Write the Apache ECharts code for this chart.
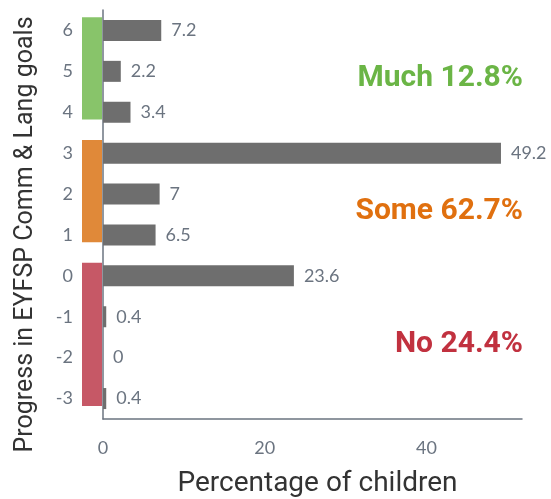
<!DOCTYPE html>
<html>
<head>
<meta charset="utf-8">
<script src="https://cdn.jsdelivr.net/npm/echarts@6/dist/echarts.min.js"></script>
<style>
  html, body { margin: 0; padding: 0; background: #ffffff; }
  #chart { width: 551px; height: 499px; }
</style>
</head>
<body>
<div id="chart"></div>
<script>
// Progress levels (bottom to top) and share of children at each level
const progressLevels = ['-3', '-2', '-1', '0', '1', '2', '3', '4', '5', '6'];
const percentChildren = [0.4, 0, 0.4, 23.6, 6.5, 7, 49.2, 3.4, 2.2, 7.2];

// Progress groups: name, first and last level in each group
const groupNames = ['No', 'Some', 'Much'];
const groupFirst = ['-3', '1', '4'];
const groupLast = ['0', '3', '6'];
const groupBandColors = ['#c65866', '#e08939', '#88c46a'];
const groupTextColors = ['#c1313f', '#e0700f', '#6bb546'];

const xTickStep = 20;
const xMax = 51.8;

// group totals, summed from the level values
const groupTotals = groupNames.map((_, g) => {
  const a = progressLevels.indexOf(groupFirst[g]);
  const b = progressLevels.indexOf(groupLast[g]);
  let s = 0;
  for (let i = a; i <= b; i++) s += percentChildren[i];
  return Math.round(s * 10) / 10;
});

// caption offset below the group's middle, in category steps
const captionShift = [0.19, 0.43, 0.18];

const groupData = groupNames.map((_, g) => [
  progressLevels.indexOf(groupFirst[g]),
  progressLevels.indexOf(groupLast[g]),
  g
]);

const chart = echarts.init(document.getElementById('chart'), null, { renderer: 'canvas' });

const gray = '#6b7480';

chart.setOption({
  animation: false,
  grid: { left: 103, right: 29, top: 10, bottom: 80, containLabel: false, outerBoundsMode: 'none' },
  xAxis: {
    type: 'value',
    min: 0,
    max: xMax,
    interval: xTickStep,
    name: 'Percentage of children',
    nameLocation: 'middle',
    nameGap: 51,
    nameTextStyle: { fontFamily: 'Roboto', fontSize: 28, color: '#333333', padding: [0, 0, 0, 10] },
    axisLine: { show: true, lineStyle: { color: gray, width: 1.5 } },
    axisTick: { show: false },
    splitLine: { show: false },
    axisLabel: {
      showMaxLabel: false,
      margin: 20,
      fontFamily: 'Lato', fontSize: 18, color: gray
    }
  },
  yAxis: {
    type: 'category',
    data: progressLevels,
    name: 'Progress in EYFSP Comm & Lang goals',
    nameLocation: 'middle',
    nameRotate: 90,
    nameGap: 65,
    nameTextStyle: { fontFamily: 'Roboto', fontSize: 25, color: '#333333', padding: [0, 40, 0, 0] },
    axisLine: { show: true, lineStyle: { color: gray, width: 1.5 } },
    axisTick: { show: false },
    axisLabel: { margin: 30, fontFamily: 'Lato', fontSize: 18, color: gray }
  },
  series: [
    {
      type: 'bar',
      data: percentChildren,
      barWidth: 21,
      itemStyle: { color: '#6e6e6e' },
      label: {
        show: true,
        position: 'right',
        distance: 10,
        fontFamily: 'Lato', fontSize: 18, color: gray
      }
    },
    {
      type: 'custom',
      clip: false,
      silent: true,
      data: groupData,
      renderItem: function (params, api) {
        const a = api.value(0), b = api.value(1), g = api.value(2);
        const step = api.size([0, 1])[1];
        const x0 = api.coord([0, a])[0];
        const ya = api.coord([0, a])[1];
        const yb = api.coord([0, b])[1];
        const yTop = yb - 0.32 * step;
        const yBot = ya + 0.18 * step;
        const xRight = api.coord([xMax, a])[0];
        const yMid = (ya + yb) / 2 + captionShift[g] * step;
        return {
          type: 'group',
          children: [
            {
              type: 'rect',
              shape: { x: x0 - 21, y: yTop, width: 20, height: yBot - yTop },
              style: { fill: groupBandColors[g] }
            },
            {
              type: 'text',
              x: xRight + 1,
              y: yMid,
              style: {
                text: groupNames[g] + ' ' + groupTotals[g].toFixed(1) + '%',
                align: 'right',
                verticalAlign: 'middle',
                font: 'bold 30px "Roboto"',
                fill: groupTextColors[g]
              }
            }
          ]
        };
      }
    }
  ]
});
</script>
</body>
</html>
